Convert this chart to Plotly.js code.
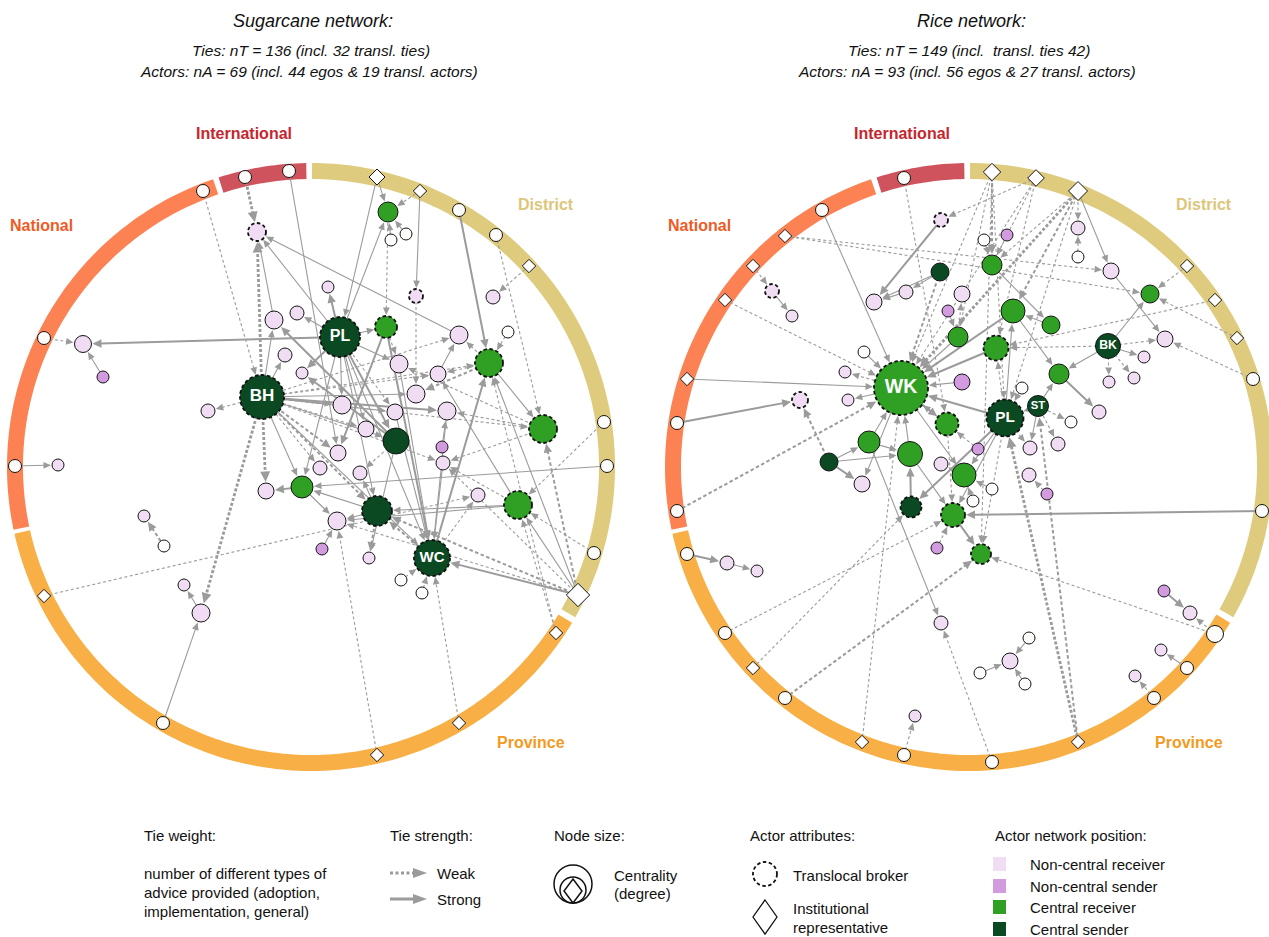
<!DOCTYPE html>
<html>
<head>
<meta charset="utf-8">
<script src="https://cdn.plot.ly/plotly-3.0.1.min.js"></script>
<style>
  html, body { margin: 0; padding: 0; background: #ffffff; }
  #chart { width: 1269px; height: 937px; }
</style>
</head>
<body>
<div id="chart"></div>
<script>
// ---------- Ring (administrative level) definition ----------
const ringNames = ['International', 'District', 'Province', 'National'];
const ringFrom = [90.9, -29.6, -167.3, 108.8];   // degrees, counter-clockwise from east
const ringTo = [107.7, 89.8, -30.8, 191.9];
const ringFill = ['#CF535D', '#DFCB7E', '#F8AF45', '#FC8253'];
const ringTextColor = ['#C6262E', '#DCC67A', '#F39A22', '#EF5B27'];
const ringLabelOffset = [[-67, -334], [235, -263], [220, 275], [-270, -242]];
const ringCentreX = [311, 969];
const RING = { cy: 467, r: 296, w: 16 };

// ---------- Panel headings ----------
const panelTitles = ['Sugarcane network:', 'Rice network:'];
const panelTies = ['Ties: nT = 136 (incl. 32 transl. ties)', 'Ties: nT = 149 (incl.\u00a0 transl. ties 42)'];
const panelActors = ['Actors: nA = 69 (incl. 44 egos &amp; 19 transl. actors)', 'Actors: nA = 93 (incl. 56 egos &amp; 27 transl. actors)'];

// ---------- Sugarcane network: actors ----------
const sugarIds = [
  's01','s02','s03','s04','s05','s06','s07','s08','s09','s10',
  's11','s12','s13','s14','s15','s16','s17','s18','s19','BH',
  'PL','WC','i01','i02','i03','i04','i05','i06','i07','i08',
  'i09','i10','i11','i12','i13','i14','i15','i16','i17','i18',
  'i19','i20','i21','i22','i23','i24','i25','i26','i27','i28',
  'i29','i30','i31','i32','i33','i34','i35','i36','i37','i38',
  'i39','i40','i41','i42','i43','i44','i45','i46','i47'];
const sugarX = [
  203,245,289,377,420,459,496,529,604,607,
  594,578,556,459,377,163,44,15,44,262,
  340,432,257,274,297,285,302,83,103,208,
  58,388,406,391,328,416,493,386,459,508,
  489,399,438,416,342,395,447,366,396,442,
  543,338,320,360,443,302,266,478,518,377,
  337,322,369,401,422,144,164,184,201];
const sugarY = [
  191,177,171,177,191,210,235,266,422,466,
  553,595,633,723,755,723,596,466,338,397,
  337,558,232,320,313,355,373,344,377,411,
  465,212,234,240,287,296,297,327,335,332,
  363,364,374,394,405,412,411,429,441,447,
  429,453,468,473,463,487,491,495,505,511,
  521,549,558,580,593,516,546,585,613];
const sugarR = [
  6.5,6.5,6.5,8,6.7,6.5,6.5,6.7,6.5,6.5,
  6.5,11.7,6.7,6.7,6.7,6.5,6.7,6.5,6.5,22,
  20,18,9,9,7,7,6,8.5,6,7,
  6,10,6,6,6,7,7,11,9,6,
  14,9,8,9,9,8,9,8,13,6,
  14,8,7,7,7,11,8,7,14,15,
  9,6,6,6,6,6,6,6,9];
const sugarRole = [
  'alter','alter','alter','inst','inst','alter','alter','inst','alter','alter',
  'alter','inst','inst','inst','inst','alter','inst','alter','alter','cs',
  'cs','cs','ncr','ncr','ncr','ncr','ncr','ncr','ncs','ncr',
  'ncr','cr','alter','alter','ncr','ncr','ncr','cr','ncr','alter',
  'cr','ncr','ncr','ncr','ncr','ncr','ncr','ncr','cs','ncs',
  'cr','ncr','ncr','ncr','ncr','cr','ncr','ncr','cr','cs',
  'ncr','ncs','ncr','alter','alter','ncr','alter','ncr','ncr'];
const sugarBroker = [
  0,0,0,0,0,0,0,0,0,0,
  0,0,0,0,0,0,0,0,0,1,
  1,1,1,0,0,0,0,0,0,0,
  0,0,0,0,0,1,0,1,0,0,
  1,0,0,0,0,0,0,0,0,0,
  1,0,0,0,0,0,0,0,1,1,
  0,0,0,0,0,0,0,0,0];
const sugarLabels = ['BH', 'PL', 'WC'];

// ---------- Sugarcane network: ties (sender>receiver) ----------
const sugarWeak1 = ['s01>BH','s19>i06','BH>i08','BH>i29','BH>i33','BH>i19','s17>i36','i10>i16','s05>i10','i14>i22',
  'i16>i20','s07>i29','s08>i15','i18>i19','i19>i17','BH>i17','s13>i19','s12>i39','s11>i37','s09>i37',
  'i42>WC','i43>WC','s14>WC','s15>i39','s13>i37','PL>i24','BH>i26','BH>i31','i29>i25','i29>i33',
  'i37>i33','i19>i21','i27>i32','BH>i21','i29>i20','s12>i33','WC>i36'];
const sugarWeak2 = ['i45>i44','i19>i22','s12>i29','s12>i38','i38>i41','WC>i38','BH>i30','BH>i38'];
const sugarWeak3 = ['s02>i01','BH>i01','BH>i35','BH>i47'];
const sugarStrong1 = ['i02>i01','PL>i01','s03>i30','BH>i02','BH>i04','PL>i03','i07>i06','s18>i09','BH>i23','BH>i24',
  'BH>i22','BH>i34','PL>i34','i38>i34','s16>i47','i47>i46','s04>i10','s04>PL','i17>i01','i11>i10',
  'i12>i10','PL>i10','s05>i14','PL>i16','i21>i17','i19>i29','s12>i19','s12>i37','s10>i34','i37>i38',
  'i37>i39','i38>i39','i40>i39','i34>i39','PL>WC','BH>WC','i20>WC','i24>WC','i25>WC','i33>WC',
  'BH>i27','PL>i20','PL>i26','i28>i25','i38>i32','PL>i38','PL>i23','i37>i21','i27>i41'];
const sugarStrong2 = ['i27>i02','i27>i05','PL>i06','BH>i25','i34>i35','PL>i13','i16>i30','s06>i19','WC>i19','s12>WC',
  'i16>WC','PL>i27','PL>i05'];

// ---------- Rice network: actors ----------
const riceIds = [
  'r01','r02','r03','r04','r05','r06','r07','r08','r09','r10',
  'r11','r12','r13','r14','r15','r16','r17','r18','r19','r20',
  'r21','r22','r23','r24','r25','r26','r27','WK','PL','ST',
  'BK','j01','j02','j03','j04','j05','j06','j07','j08','j09',
  'j10','j11','j12','j13','j14','j15','j16','j17','j18','j19',
  'j20','j21','j22','j23','j24','j25','j26','j27','j28','j29',
  'j30','j31','j32','j33','j34','j35','j36','j37','j38','j39',
  'j40','j41','j42','j43','j44','j45','j46','j47','j48','j49',
  'j50','j51','j52','j53','j54','j55','j56','j57','j58','j59',
  'j60','j61','j62'];
const riceX = [
  904,822,785,753,725,687,677,677,687,725,
  753,785,862,904,992,1078,1154,1187,1215,1262,
  1253,1237,1215,1187,1078,1036,992,901,1005,1038,
  1108,941,940,984,1007,1078,1078,992,772,792,
  906,874,962,948,958,1013,1051,996,1111,1150,
  1165,1059,1144,1109,1134,864,845,848,962,800,
  1022,1099,1071,947,869,910,829,1058,1030,978,
  941,964,862,1029,1047,992,911,973,953,937,
  981,727,757,941,915,1010,1029,980,1025,1164,
  1190,1161,1135];
const riceY = [
  178,210,236,266,300,379,423,511,554,633,
  668,698,742,755,762,742,698,668,634,511,
  379,338,300,266,191,178,172,388,418,406,
  346,220,272,240,235,228,257,265,291,316,
  292,302,294,311,337,311,325,348,271,294,
  339,374,357,382,378,352,372,400,382,400,
  388,412,422,424,442,454,462,444,448,449,
  464,475,484,475,494,489,507,501,515,548,
  554,563,571,623,716,661,638,673,684,591,
  613,650,676];
const riceR = [
  6.5,6.5,6.7,6.7,6.7,6.7,6.5,6.5,6.5,6.5,
  6.7,6.5,6.7,6.5,6.5,6.7,6.5,6.5,8.5,6.5,
  6.5,6.7,6.7,6.7,9.5,8.3,8.7,27,18.5,10.5,
  12.5,7,9,6,6,7,6,10,7,6,
  7,8,8,6,10,12,9,12.5,8,9,
  8,10,6,6,6,6,6,6,8,8,
  6,7,6,11.5,11,12.5,9,7,7,6,
  7,12,8,7,6,6,10.5,6,12,6,
  10,7,6,7,6,8,6,6,6,6,
  7,6,6];
const riceRole = [
  'alter','alter','inst','inst','inst','inst','alter','alter','alter','alter',
  'inst','alter','inst','alter','alter','inst','alter','alter','alter','alter',
  'alter','inst','inst','inst','inst','inst','inst','cr','cs','cs',
  'cs','ncr','cs','alter','ncs','ncr','alter','cr','ncr','ncr',
  'ncr','ncr','ncr','ncs','cr','cr','cr','cr','ncr','cr',
  'ncr','cr','ncr','ncr','ncr','alter','ncr','ncr','ncs','ncr',
  'alter','ncr','alter','cr','cr','cr','cs','ncr','ncr','ncs',
  'ncr','cr','ncr','ncr','ncs','alter','cs','alter','cr','ncs',
  'cr','ncr','ncr','ncr','ncr','ncr','alter','alter','alter','ncs',
  'ncr','ncr','ncr'];
const riceBroker = [
  0,0,0,0,0,0,0,0,0,0,
  0,0,0,0,0,0,0,0,0,0,
  0,0,0,0,0,0,0,1,1,0,
  0,1,0,0,0,0,0,0,1,0,
  0,0,0,0,0,0,0,1,0,0,
  0,0,0,0,0,0,0,0,0,1,
  0,0,0,1,0,0,0,0,0,0,
  0,0,0,0,0,0,1,0,1,0,
  1,0,0,0,0,0,0,0,0,0,
  0,0,0];
const riceLabels = ['WK', 'PL', 'ST', 'BK'];

// ---------- Rice network: ties (sender>receiver) ----------
const riceWeak1 = ['r03>j19','r04>j08','r05>WK','r01>j33','r26>j01','r10>j48','r11>j46','r13>WK','r14>j54','r15>j53',
  'r19>j50','r19>j60','r17>j62','r21>j20','r22>j19','r24>j19','r23>j17','BK>j17','BK>j23','BK>j24',
  'BK>j20','r25>j05','j06>j05','r25>j07','r25>PL','r27>WK','r27>PL','r27>j14','r27>j50','r26>j07',
  'r26>WK','r26>j17','ST>j32','ST>j37','WK>j26','j03>j07','j04>j07','j14>j12','PL>j17','j30>PL',
  'j47>j41','j41>j40','j49>j48','j39>j33','j44>j43','j33>j48','PL>j50','r03>j18','PL>j38'];
const riceWeak2 = ['j36>j29','r08>WK','r12>j50','r16>ST','r25>j15','r27>j07','j02>WK'];
const riceWeak3 = ['r16>PL','r25>WK'];
const riceStrong1 = ['r06>WK','r02>WK','j08>j09','j02>j10','j10>j11','j36>j34','j51>j52','j34>j53','r18>j61','j57>j55',
  'j56>j55','j58>j55','BK>j19','BK>j21','BK>j22','j18>j20','r25>j18','j07>j16','ST>j38','ST>j21',
  'ST>PL','j14>WK','j28>WK','j33>WK','j34>WK','j35>WK','WK>j27','j25>WK','j36>j35','WK>j42',
  'WK>j41','j13>j14','j16>j15','PL>j15','PL>j41','PL>j48','j45>j41','j35>j48','j34>j35','j15>j21',
  'j02>j11'];
const riceStrong2 = ['r07>j29','j01>j11','j36>j42','r09>j51','r20>j48','j48>j50','j59>j60','j21>j31','PL>WK','j15>WK',
  'j17>WK','PL>j46','j46>j35','WK>j33'];

// ---------- Styling ----------
const FONT = 'Liberation Sans, Arial, Helvetica, sans-serif';
const TIE_GREY = '#9b9b9b';
const ROLE_FILL = { alter: '#FCFCFA', inst: '#FFFFFF', ncr: '#F0DCF3', ncs: '#D39BDF', cr: '#30A024', cs: '#0B4922' };
const TIE_WIDTH = { 1: 1.1, 2: 2, 3: 2.8 };
const WEAK_DASH = { 1: '3px,2.5px', 2: '3.5px,2.5px', 3: '3px,2px' };

function arcPath(cx, cy, r0, r1, a0, a1) {
  const n = Math.max(6, Math.ceil(Math.abs(a1 - a0)));
  const pts = [];
  for (let i = 0; i <= n; i++) {
    const a = (a0 + (a1 - a0) * i / n) * Math.PI / 180;
    pts.push([cx + r1 * Math.cos(a), cy - r1 * Math.sin(a)]);
  }
  for (let i = n; i >= 0; i--) {
    const a = (a0 + (a1 - a0) * i / n) * Math.PI / 180;
    pts.push([cx + r0 * Math.cos(a), cy - r0 * Math.sin(a)]);
  }
  return 'M' + pts.map(p => p[0].toFixed(2) + ',' + p[1].toFixed(2)).join('L') + 'Z';
}

function buildNetwork(net) {
  const at = {};
  net.ids.forEach((id, i) => { at[id] = i; });
  const traces = [];
  const shapes = [];
  const headX = [], headY = [];

  net.tieSets.forEach(set => {
    const lx = [], ly = [];
    set.ties.forEach(tie => {
      const parts = tie.split('>');
      const a = at[parts[0]], b = at[parts[1]];
      if (a === undefined || b === undefined) { console.warn('unknown actor in tie ' + tie); return; }
      const x0 = net.x[a], y0 = net.y[a], x1 = net.x[b], y1 = net.y[b];
      const len = Math.hypot(x1 - x0, y1 - y0);
      const ux = (x1 - x0) / len, uy = (y1 - y0) / len;
      const reach = net.role[b] === 'inst' ? net.r[b] * 0.8 : net.r[b];
      const tipX = x1 - ux * (reach + 1), tipY = y1 - uy * (reach + 1);
      const L = 6 + 1.5 * set.weight, H = 2.6 + 0.8 * set.weight;
      const bx = tipX - ux * L, by = tipY - uy * L;
      lx.push(x0, bx + ux, null);
      ly.push(y0, by + uy, null);
      headX.push(tipX, bx - uy * H, bx + uy * H, null);
      headY.push(tipY, by + ux * H, by - ux * H, null);
    });
    traces.push({
      type: 'scatter', mode: 'lines', x: lx, y: ly, hoverinfo: 'skip',
      line: { color: TIE_GREY, width: TIE_WIDTH[set.weight], dash: set.strong ? 'solid' : WEAK_DASH[set.weight] }
    });
  });

  traces.push({
    type: 'scatter', mode: 'lines', x: headX, y: headY, hoverinfo: 'skip',
    fill: 'toself', fillcolor: TIE_GREY, line: { width: 0, color: TIE_GREY }
  });

  traces.push({
    type: 'scatter', mode: 'markers', x: net.x, y: net.y, hoverinfo: 'skip',
    marker: {
      opacity: 1,
      symbol: net.role.map(r => r === 'inst' ? 'diamond' : 'circle'),
      size: net.r.map((r, i) => net.role[i] === 'inst' ? 2 * r / 1.3 : 2 * r),
      color: net.role.map(r => ROLE_FILL[r]),
      line: { color: '#141414', width: net.broker.map(b => b ? 0 : 1) }
    }
  });

  net.broker.forEach((b, i) => {
    if (!b) return;
    const r = net.r[i];
    shapes.push({
      type: 'circle', xref: 'x', yref: 'y', layer: 'above',
      x0: net.x[i] - r, x1: net.x[i] + r, y0: net.y[i] - r, y1: net.y[i] + r,
      line: { color: '#111111', width: 1.8, dash: '3.5px,2.5px' }, fillcolor: 'rgba(0,0,0,0)'
    });
  });

  const lx = [], ly = [], lt = [], ls = [];
  net.labels.forEach(id => {
    const i = at[id];
    lx.push(net.x[i]); ly.push(net.y[i]); lt.push(id); ls.push(6 + net.r[i] * 0.5);
  });
  traces.push({
    type: 'scatter', mode: 'text', x: lx, y: ly, text: lt, hoverinfo: 'skip',
    textposition: 'middle center',
    textfont: { family: FONT, size: ls, color: '#ffffff', weight: 700 }
  });

  return { traces, shapes };
}

const networks = [
  { ids: sugarIds, x: sugarX, y: sugarY, r: sugarR, role: sugarRole, broker: sugarBroker, labels: sugarLabels,
    tieSets: [
      { ties: sugarWeak1, strong: 0, weight: 1 }, { ties: sugarWeak2, strong: 0, weight: 2 },
      { ties: sugarWeak3, strong: 0, weight: 3 }, { ties: sugarStrong1, strong: 1, weight: 1 },
      { ties: sugarStrong2, strong: 1, weight: 2 }] },
  { ids: riceIds, x: riceX, y: riceY, r: riceR, role: riceRole, broker: riceBroker, labels: riceLabels,
    tieSets: [
      { ties: riceWeak1, strong: 0, weight: 1 }, { ties: riceWeak2, strong: 0, weight: 2 },
      { ties: riceWeak3, strong: 0, weight: 3 }, { ties: riceStrong1, strong: 1, weight: 1 },
      { ties: riceStrong2, strong: 1, weight: 2 }] }
];

let traces = [];
let shapes = [];
const annotations = [];

function text(x, y, t, size, opts) {
  annotations.push(Object.assign({
    x: x, y: y, xref: 'x', yref: 'y', text: t, showarrow: false,
    xanchor: 'left', yanchor: 'middle',
    font: { family: FONT, size: size, color: '#111111' }
  }, opts || {}));
}

ringCentreX.forEach((cx, p) => {
  ringNames.forEach((name, k) => {
    shapes.push({
      type: 'path', xref: 'x', yref: 'y', layer: 'below',
      path: arcPath(cx, RING.cy, RING.r - RING.w / 2, RING.r + RING.w / 2, ringFrom[k], ringTo[k]),
      fillcolor: ringFill[k], line: { width: 0 }
    });
    text(cx + ringLabelOffset[k][0], RING.cy + ringLabelOffset[k][1], name, 16,
      { xanchor: 'center', font: { family: FONT, size: 16, color: ringTextColor[k], weight: 700 } });
  });
  text(cx + 2, 21, panelTitles[p], 18, { xanchor: 'center', font: { family: FONT, size: 18, color: '#111', style: 'italic' } });
  text(cx, 50, panelTies[p], 15.5, { xanchor: 'center', font: { family: FONT, size: 15.5, color: '#111', style: 'italic' } });
  text(cx - 2, 71, panelActors[p], 15.5, { xanchor: 'center', font: { family: FONT, size: 15.5, color: '#111', style: 'italic' } });
});

networks.forEach(net => {
  const built = buildNetwork(net);
  traces = traces.concat(built.traces);
  shapes = shapes.concat(built.shapes);
});

// ---------- Key ----------
const LEG = 15;
text(142, 835, 'Tie weight:', LEG);
text(142, 873, 'number of different types of', LEG);
text(142, 892, 'advice provided (adoption,', LEG);
text(142, 911, 'implementation, general)', LEG);

text(388, 835, 'Tie strength:', LEG);
traces.push({ type: 'scatter', mode: 'lines', x: [390, 415], y: [873, 873], hoverinfo: 'skip',
  line: { color: TIE_GREY, width: 3, dash: '3px,2.5px' } });
traces.push({ type: 'scatter', mode: 'lines', x: [390, 415], y: [899, 899], hoverinfo: 'skip',
  line: { color: TIE_GREY, width: 3 } });
traces.push({ type: 'scatter', mode: 'lines', hoverinfo: 'skip', fill: 'toself', fillcolor: TIE_GREY,
  line: { width: 0, color: TIE_GREY },
  x: [427, 413, 413, null, 427, 413, 413], y: [873, 868, 878, null, 899, 894, 904] });
text(435, 873, 'Weak', LEG);
text(435, 899, 'Strong', LEG);

text(552, 835, 'Node size:', LEG);
shapes.push({ type: 'circle', xref: 'x', yref: 'y', x0: 554, x1: 592, y0: 865, y1: 903, line: { color: '#111', width: 1.5 } });
shapes.push({ type: 'circle', xref: 'x', yref: 'y', x0: 560, x1: 586, y0: 877, y1: 903, line: { color: '#111', width: 1.5 } });
shapes.push({ type: 'path', xref: 'x', yref: 'y', path: 'M573,879L582,891L573,903L564,891Z', line: { color: '#111', width: 1.5 } });
text(612, 875, 'Centrality', LEG);
text(612, 893, '(degree)', LEG);

text(748, 835, 'Actor attributes:', LEG);
shapes.push({ type: 'circle', xref: 'x', yref: 'y', x0: 753, x1: 777, y0: 862, y1: 886,
  line: { color: '#111', width: 1.8, dash: '3.5px,2.5px' } });
shapes.push({ type: 'path', xref: 'x', yref: 'y', path: 'M765,900L777,917L765,934L753,917Z', line: { color: '#111', width: 1.3 } });
text(791, 875, 'Translocal broker', LEG);
text(791, 908, 'Institutional', LEG);
text(791, 927, 'representative', LEG);

const positionNames = ['Non-central receiver', 'Non-central sender', 'Central receiver', 'Central sender'];
const positionRoles = ['ncr', 'ncs', 'cr', 'cs'];
const positionRows = [864, 886, 907, 929];
text(993, 835, 'Actor network position:', LEG);
positionNames.forEach((name, k) => {
  shapes.push({ type: 'rect', xref: 'x', yref: 'y', x0: 993, x1: 1006, y0: positionRows[k] - 7, y1: positionRows[k] + 7,
    fillcolor: ROLE_FILL[positionRoles[k]], line: { width: 0 } });
  text(1028, positionRows[k], name, LEG);
});

const layout = {
  width: 1269, height: 937,
  margin: { l: 0, r: 0, t: 0, b: 0, pad: 0 },
  paper_bgcolor: '#ffffff', plot_bgcolor: '#ffffff',
  showlegend: false,
  xaxis: { range: [0, 1269], autorange: false, visible: false, showgrid: false, zeroline: false },
  yaxis: { range: [937, 0], autorange: false, visible: false, showgrid: false, zeroline: false },
  shapes: shapes,
  annotations: annotations
};

Plotly.newPlot('chart', traces, layout, { staticPlot: true, displayModeBar: false });
</script>
</body>
</html>
